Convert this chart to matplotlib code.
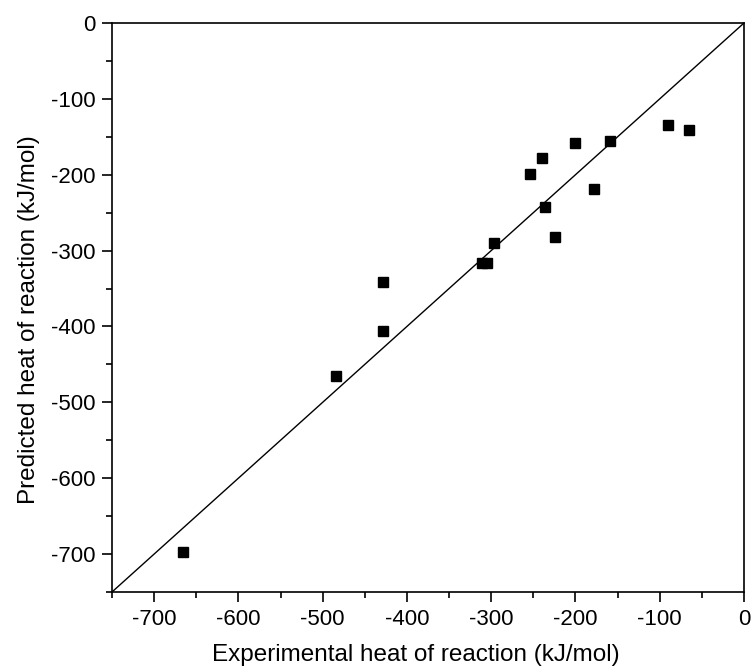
import matplotlib
matplotlib.use("Agg")
import matplotlib.pyplot as plt
from matplotlib.ticker import MultipleLocator
import numpy as np

plt.rcParams['font.family'] = ['Liberation Sans', 'DejaVu Sans']
plt.rcParams['axes.unicode_minus'] = False

# experimental vs predicted heat of reaction (kJ/mol)
exp_heat = [-666, -484, -428, -428, -311, -305, -297, -254, -240, -236, -224, -201, -178, -159, -90, -65]
pred_heat = [-697, -465, -406, -341, -317, -316, -290, -199, -178, -242, -282, -158, -219, -155, -135, -141]

fig = plt.figure(figsize=(7.51, 6.70), dpi=100)
ax = fig.add_axes([0.1491, 0.1164, 0.8416, 0.8493])

# parity line
ax.plot([-750, 0], [-750, 0], color="black", lw=1.0)
ax.plot(exp_heat, pred_heat, "s", color="black", markersize=7, linestyle="none")

ax.set_xlim(-750, 0)
ax.set_ylim(-750, 0)
ax.xaxis.set_major_locator(MultipleLocator(100))
ax.xaxis.set_minor_locator(MultipleLocator(50))
ax.yaxis.set_major_locator(MultipleLocator(100))
ax.yaxis.set_minor_locator(MultipleLocator(50))
ax.tick_params(which="major", direction="out", length=7, width=1.2, labelsize=16, pad=5)
ax.tick_params(which="minor", direction="out", length=4, width=1.2)
ax.set_xticks(np.arange(-700, 1, 100))
ax.set_yticks(np.arange(-700, 1, 100))
for s in ax.spines.values():
    s.set_linewidth(1.2)

ax.set_xlabel("Experimental heat of reaction (kJ/mol)", fontsize=17.5, labelpad=10)
ax.set_ylabel("Predicted heat of reaction (kJ/mol)", fontsize=17.5, labelpad=8)
ax.xaxis.label.set_x(0.481)
ax.yaxis.label.set_y(0.478)

fig.savefig("out.png", dpi=100)
